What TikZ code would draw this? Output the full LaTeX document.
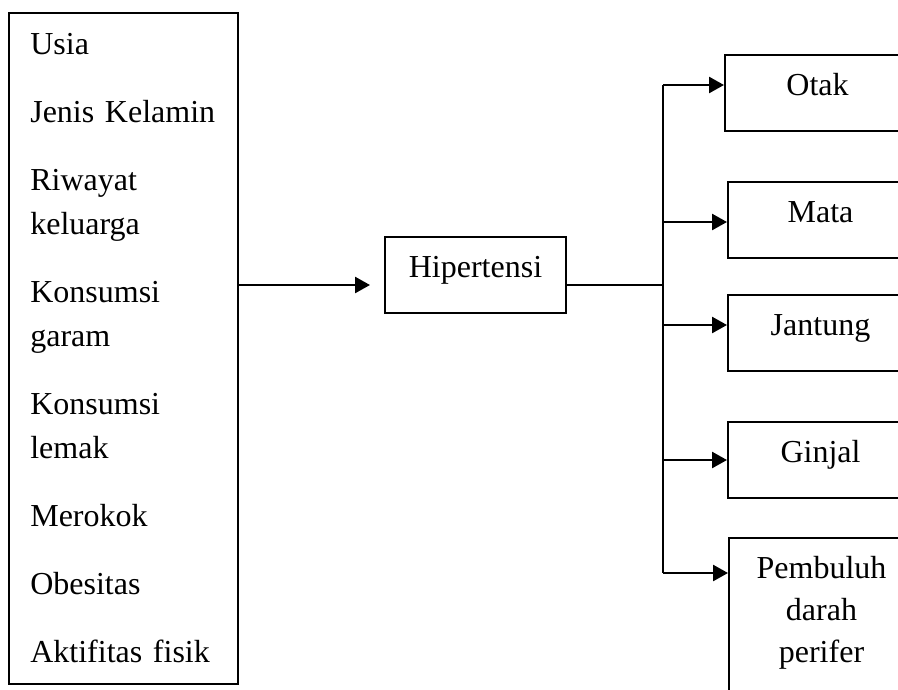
\documentclass[tikz,border=0pt]{standalone}
\usepackage{fontspec}
\setmainfont{Liberation Serif}
\usetikzlibrary{arrows.meta, positioning}

\begin{document}
\begin{tikzpicture}[x=0.375pt, y=-0.375pt, line width=0.75pt,
    box/.style     = {draw, anchor=north west, inner sep=0pt, minimum width=69.375pt,
                      text height=15pt, text depth=13.5pt, align=center,
                      font=\fontsize{12pt}{15.75pt}\selectfont},
    factorbox/.style = {draw, anchor=north west, inner xsep=8pt, inner ysep=0pt,
                      text width=69.875pt, minimum height=251.625pt, align=left,
                      font=\fontsize{12pt}{16.5pt}\selectfont},
    arr/.style     = {-{Triangle[length=5.6pt, width=6pt]}, line width=0.9pt}]
    \clip (0,0) rectangle (898,689);

    \node [factorbox] (factors) at (8,12)
      {Usia\\[9pt] Jenis Kelamin\\[9pt] Riwayat\\ keluarga\\[9pt] Konsumsi\\ garam\\[9pt]
       Konsumsi\\ lemak\\[9pt] Merokok\\[9pt] Obesitas\\[9pt] Aktifitas fisik};
    \node [box, minimum width=67.875pt] (hip) at (384,236) {Hipertensi};

    \node [box] (otak)    at (724,54)  {Otak};
    \node [box] (mata)    at (727,181) {Mata};
    \node [box] (jantung) at (727,294) {Jantung};
    \node [box] (ginjal)  at (727,421) {Ginjal};
    \node [box, text width=69.375pt, text depth=56.25pt] (pembuluh) at (728,537)
      {Pembuluh\\ darah\\ perifer};

    \coordinate (split) at (663,285);
    \draw [arr, shorten >=5.25pt] (factors.east |- split) -- (hip.west |- split);
    \draw (hip.east |- split) -- (split);
    \draw (split |- 0,85) -- (split |- 0,573);
    \foreach \n/\y in {otak/85, mata/222, jantung/325, ginjal/460, pembuluh/573}
      \draw [arr] (split |- 0,\y) -- (\n.west |- 0,\y);
\end{tikzpicture}
\end{document}
